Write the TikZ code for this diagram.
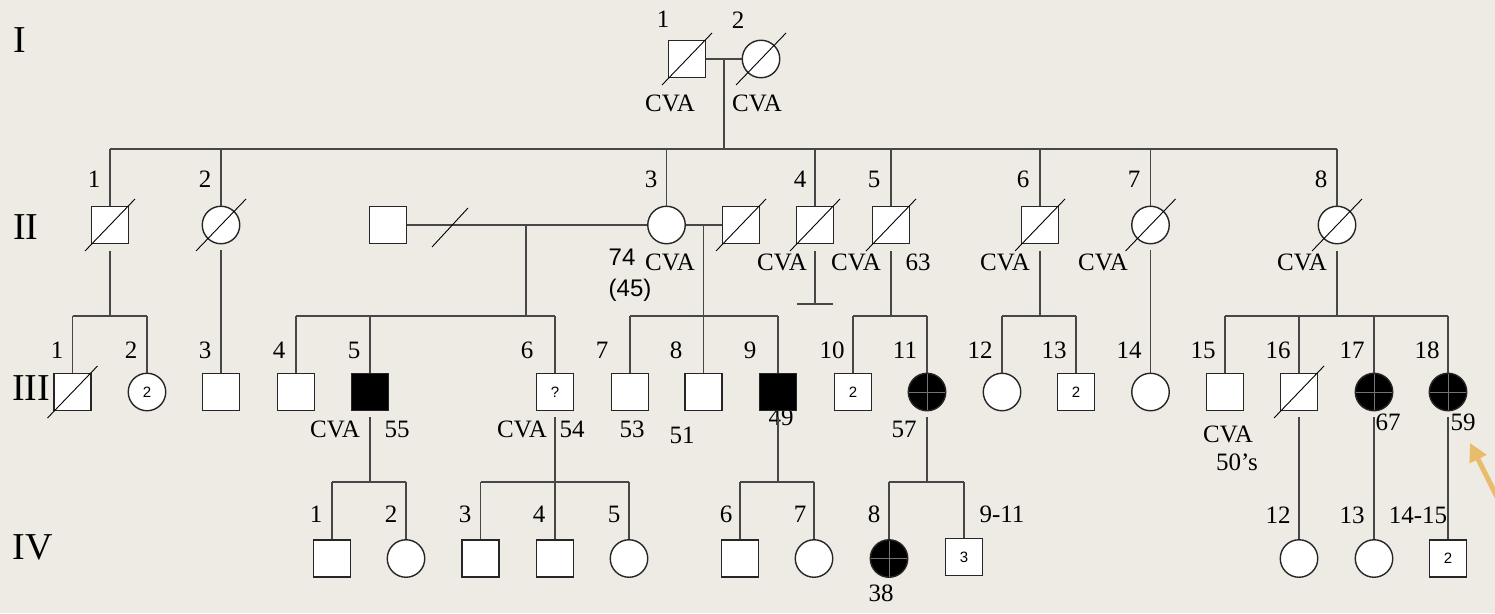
\documentclass[tikz,border=0pt]{standalone}
\usepackage{fontspec}
\setmainfont{Liberation Serif}
\setsansfont{Liberation Sans}
\usetikzlibrary{calc,arrows.meta}
\definecolor{bgc}{RGB}{238,235,228}
\definecolor{arrowc}{RGB}{232,188,106}
\newcommand{\lblfont}{\fontsize{25}{28}\selectfont}
\newcommand{\genfont}{\fontsize{38}{42}\selectfont}
\newcommand{\insfont}{\sffamily\fontsize{15}{17}\selectfont}
\newcommand{\sansfont}{\sffamily\fontsize{24}{28}\selectfont}
\newcommand{\deadmark}[1]{\draw[dm] ($(#1)+(-25,26)$) -- ($(#1)+(25,-26)$);}
\newcommand{\crossmark}[1]{\draw[cr] ($(#1)+(-18,0)$) -- ($(#1)+(18,0)$) ($(#1)+(0,-18)$) -- ($(#1)+(0,18)$);}
\tikzset{
  sq/.style={rectangle, draw=black!85, fill=white, line width=1.4, minimum size=37, inner sep=0, font=\insfont},
  ci/.style={circle, draw=black!85, fill=white, line width=1.4, minimum size=37.5, inner sep=0, font=\insfont},
  aff/.style={fill=black},
  ln/.style={draw=black!72, line width=1.4},
  dm/.style={draw=black, line width=0.9},
  cr/.style={draw=black!55, line width=0.6},
  lbl/.style={font=\lblfont, inner sep=0, anchor=center},
  sl/.style={font=\sansfont, inner sep=0, anchor=center},
  gen/.style={font=\genfont, inner sep=0, anchor=center},
}
\begin{document}
\begin{tikzpicture}[x=1pt,y=-1pt]
\fill[bgc] (0,0) rectangle (1495,613);
\useasboundingbox (0,0) rectangle (1495,613);

% generation labels
\node[gen] (gI) at (20,40) {I};
\node[gen] (gII) at (26,227) {II};
\node[gen] (gIII) at (31,388) {III};
\node[gen] (gIV) at (33,547) {IV};

% ---------- Generation I
\node[sq] (I1) at (687,59) {};
\node[ci] (I2) at (761,59) {};
\coordinate (mI) at (724,59);
\coordinate (sI) at (724,149);
\draw[ln] (I1.east) -- (I2.west);
\draw[ln] (mI) -- (sI);
\deadmark{I1}\deadmark{I2}
\node[lbl] (lI1) at (663,19) {1};
\node[lbl] (lI2) at (738,20) {2};
\node[lbl] (cI1) at (670,103) {CVA};
\node[lbl] (cI2) at (757,103) {CVA};

% ---------- Generation II
\coordinate (tL) at (110,149);
\coordinate (tR) at (1337,149);
\draw[ln] (tL) -- (tR);

\node[sq] (II1) at (110,225) {};
\node[ci] (II2) at (221,225) {};
\node[sq] (IIs) at (388,225) {};
\node[ci] (II3) at (666.5,225) {};
\node[sq] (II3s) at (741,225) {};
\node[sq] (II4) at (815,225) {};
\node[sq] (II5) at (891,225) {};
\node[sq] (II6) at (1040,225) {};
\node[ci] (II7) at (1150.5,225) {};
\node[ci] (II8) at (1337,225) {};

\foreach \n in {II1,II2,II3,II4,II5,II6,II7,II8}{
  \draw[ln] (\n.north |- tL) -- (\n.north);
}
\deadmark{II1}\deadmark{II2}\deadmark{II3s}\deadmark{II4}\deadmark{II5}
\deadmark{II6}\deadmark{II7}\deadmark{II8}

\node[lbl] (lII1) at (94,179) {1};
\node[lbl] (lII2) at (205,179) {2};
\node[lbl] (lII3) at (651,179) {3};
\node[lbl] (lII4) at (800,179) {4};
\node[lbl] (lII5) at (874,179) {5};
\node[lbl] (lII6) at (1023,179) {6};
\node[lbl] (lII7) at (1134,179) {7};
\node[lbl] (lII8) at (1321,179) {8};

\node[sl] (a74) at (622,257) {74};
\node[sl] (a45) at (630,290) {(45)};
\node[lbl] (cII3) at (670,262) {CVA};
\node[lbl] (cII4) at (782,262) {CVA};
\node[lbl] (cII5) at (856,262) {CVA};
\node[lbl] (aII5) at (918,262) {63};
\node[lbl] (cII6) at (1005,262) {CVA};
\node[lbl] (cII7) at (1103,262) {CVA};
\node[lbl] (cII8) at (1302,262) {CVA};

% marriages
\draw[ln] (IIs.east) -- (II3.west);
\coordinate (sepA) at (432,247);
\coordinate (sepB) at (468,208);
\draw[dm] (sepA) -- (sepB);
\draw[ln] (II3.east) -- (II3s.west);

% ---------- Generation III
\node[sq] (III1) at (72.5,392) {};
\node[ci] (III2) at (147,392) {2};
\node[sq] (III3) at (221,392) {};
\node[sq] (III4) at (296,392) {};
\node[sq,aff] (III5) at (370,392) {};
\node[sq] (III6) at (555,392) {?};
\node[sq] (III7) at (630,392) {};
\node[sq] (III8) at (703.5,392) {};
\node[lbl] (aIII9) at (781,417) {49};
\node[sq,aff] (III9) at (778,392) {};
\node[sq] (III10) at (853,392) {2};
\node[ci,aff] (III11) at (927,392) {};
\node[ci] (III12) at (1002,392) {};
\node[sq] (III13) at (1076,392) {2};
\node[ci] (III14) at (1150.5,392) {};
\node[sq] (III15) at (1225,392) {};
\node[sq] (III16) at (1299,392) {};
\node[ci,aff] (III17) at (1374,392) {};
\node[ci,aff] (III18) at (1448,392) {};
\deadmark{III1}\deadmark{III16}
\crossmark{III11}\crossmark{III17}\crossmark{III18}

% II-1 children
\coordinate (d1a) at (110,251);
\coordinate (d1b) at (110,316);
\draw[ln] (d1a) -- (d1b);
\draw[ln] (III1.north |- d1b) -- (III2.north |- d1b);
\draw[ln] (III1.north |- d1b) -- (III1.north);
\draw[ln] (III2.north |- d1b) -- (III2.north);
% II-2 child
\draw[ln] ($(II2.south)+(0,6)$) -- (III3.north);
% first marriage children
\coordinate (d2a) at (526,225);
\coordinate (d2b) at (526,316);
\draw[ln] (d2a) -- (d2b);
\draw[ln] (III4.north |- d2b) -- (III6.north |- d2b);
\foreach \n in {III4,III5,III6}{\draw[ln] (\n.north |- d2b) -- (\n.north);}
% second marriage children
\coordinate (d3a) at (703.5,225);
\coordinate (d3b) at (703.5,316);
\draw[ln] (d3a) -- (III8.north);
\draw[ln] (III7.north |- d3b) -- (III9.north |- d3b);
\foreach \n in {III7,III9}{\draw[ln] (\n.north |- d3b) -- (\n.north);}
% II-4 no children
\coordinate (d4a) at (815,251);
\coordinate (d4b) at (815,304);
\coordinate (d4l) at (797,304);
\coordinate (d4r) at (833,304);
\draw[ln] (d4a) -- (d4b);
\draw[ln] (d4l) -- (d4r);
% II-5 children
\coordinate (d5a) at (891,251);
\coordinate (d5b) at (891,316);
\draw[ln] (d5a) -- (d5b);
\draw[ln] (III10.north |- d5b) -- (III11.north |- d5b);
\foreach \n in {III10,III11}{\draw[ln] (\n.north |- d5b) -- (\n.north);}
% II-6 children
\coordinate (d6a) at (1040,251);
\coordinate (d6b) at (1040,316);
\draw[ln] (d6a) -- (d6b);
\draw[ln] (III12.north |- d6b) -- (III13.north |- d6b);
\foreach \n in {III12,III13}{\draw[ln] (\n.north |- d6b) -- (\n.north);}
% II-7 child
\draw[ln] ($(II7.south)+(0,6)$) -- (III14.north);
% II-8 children
\coordinate (d8a) at (1337,251);
\coordinate (d8b) at (1337,316);
\draw[ln] (d8a) -- (d8b);
\draw[ln] (III15.north |- d8b) -- (III18.north |- d8b);
\foreach \n in {III15,III16,III17,III18}{\draw[ln] (\n.north |- d8b) -- (\n.north);}

\node[lbl] (lIII1) at (57,350) {1};
\node[lbl] (lIII2) at (131,350) {2};
\node[lbl] (lIII3) at (205,350) {3};
\node[lbl] (lIII4) at (279,350) {4};
\node[lbl] (lIII5) at (354,350) {5};
\node[lbl] (lIII6) at (527,350) {6};
\node[lbl] (lIII7) at (602,350) {7};
\node[lbl] (lIII8) at (676,350) {8};
\node[lbl] (lIII9) at (750,350) {9};
\node[lbl] (lIII10) at (832,350) {10};
\node[lbl] (lIII11) at (905,350) {11};
\node[lbl] (lIII12) at (980,350) {12};
\node[lbl] (lIII13) at (1054,350) {13};
\node[lbl] (lIII14) at (1129,350) {14};
\node[lbl] (lIII15) at (1203,350) {15};
\node[lbl] (lIII16) at (1278,350) {16};
\node[lbl] (lIII17) at (1352,350) {17};
\node[lbl] (lIII18) at (1427,350) {18};

\node[lbl] (cIII5) at (335,429) {CVA};
\node[lbl] (aIII5) at (397,429) {55};
\node[lbl] (cIII6) at (522,429) {CVA};
\node[lbl] (aIII6) at (572,429) {54};
\node[lbl] (aIII7) at (632,429) {53};
\node[lbl] (aIII8) at (682,435) {51};
\node[lbl] (aIII11) at (904,429) {57};
\node[lbl] (cIII15) at (1228,434) {CVA};
\node[lbl] (aIII15) at (1237,462) {50’s};
\node[lbl] (aIII17) at (1388,422) {67};
\node[lbl] (aIII18) at (1463,422) {59};

% ---------- Generation IV
\node[sq] (IV1) at (332,558.5) {};
\node[ci] (IV2) at (406,558.5) {};
\node[sq] (IV3) at (480.5,558.5) {};
\node[sq] (IV4) at (555,558.5) {};
\node[ci] (IV5) at (629,558.5) {};
\node[sq] (IV6) at (740,558.5) {};
\node[ci] (IV7) at (814,558.5) {};
\node[ci,aff] (IV8) at (889,558.5) {};
\node[sq] (IV9) at (964,557) {3};
\node[ci] (IV12) at (1299,558.5) {};
\node[ci] (IV13) at (1374,558.5) {};
\node[sq] (IV14) at (1448,558.5) {2};
\crossmark{IV8}

% III-5 children
\coordinate (e5a) at (370,417);
\coordinate (e5b) at (370,482);
\draw[ln] (e5a) -- (e5b);
\draw[ln] (IV1.north |- e5b) -- (IV2.north |- e5b);
\foreach \n in {IV1,IV2}{\draw[ln] (\n.north |- e5b) -- (\n.north);}
% III-6 children
\coordinate (e6a) at (555,417);
\coordinate (e6b) at (555,482);
\draw[ln] (e6a) -- (IV4.north);
\draw[ln] (IV3.north |- e6b) -- (IV5.north |- e6b);
\foreach \n in {IV3,IV5}{\draw[ln] (\n.north |- e6b) -- (\n.north);}
% III-9 children
\coordinate (e9a) at (778,417);
\coordinate (e9b) at (778,482);
\draw[ln] (e9a) -- (e9b);
\draw[ln] (IV6.north |- e9b) -- (IV7.north |- e9b);
\foreach \n in {IV6,IV7}{\draw[ln] (\n.north |- e9b) -- (\n.north);}
% III-11 children
\coordinate (e11a) at (927,417);
\coordinate (e11b) at (927,482);
\draw[ln] (e11a) -- (e11b);
\draw[ln] (IV8.north |- e11b) -- (IV9.north |- e11b);
\foreach \n in {IV8,IV9}{\draw[ln] (\n.north |- e11b) -- (\n.north);}
% III-16,17,18 children
\draw[ln] ($(III16.south)+(0,6)$) -- (IV12.north);
\draw[ln] ($(III17.south)+(0,6)$) -- (IV13.north);
\draw[ln] ($(III18.south)+(0,6)$) -- (IV14.north);

\node[lbl] (lIV1) at (316,514) {1};
\node[lbl] (lIV2) at (391,514) {2};
\node[lbl] (lIV3) at (465,514) {3};
\node[lbl] (lIV4) at (539,514) {4};
\node[lbl] (lIV5) at (614,514) {5};
\node[lbl] (lIV6) at (726,514) {6};
\node[lbl] (lIV7) at (800,514) {7};
\node[lbl] (lIV8) at (874,514) {8};
\node[lbl] (lIV9) at (1002,514) {9-11};
\node[lbl] (lIV12) at (1278,515) {12};
\node[lbl] (lIV13) at (1352,515) {13};
\node[lbl] (lIV14) at (1418,515) {14-15};
\node[lbl] (aIV8) at (881,593) {38};

% proband arrow
\coordinate (arS) at (1504,511);
\coordinate (arT) at (1470,443);
\begin{scope}
\clip (0,0) rectangle (1495,613);
\draw[arrowc, line width=5, -{Triangle[length=18,width=18]}] (arS) -- (arT);
\end{scope}
\end{tikzpicture}
\end{document}
